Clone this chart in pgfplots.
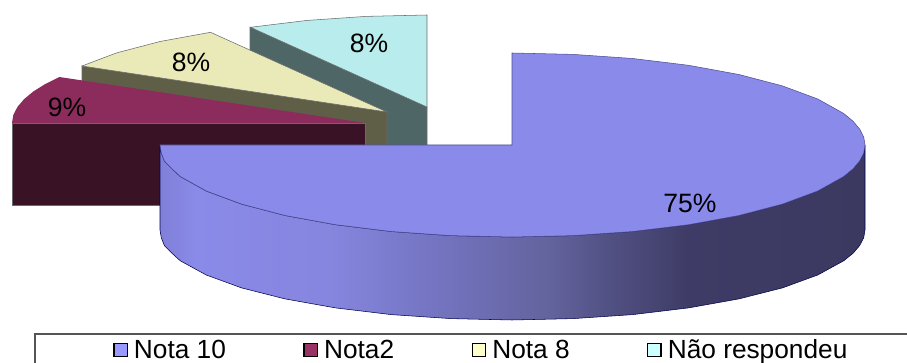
\documentclass[border=0pt]{standalone}
\usepackage{fontspec}
\setmainfont{Liberation Sans}
\usepackage{pgfplots}
\pgfplotsset{compat=1.18}
\definecolor{blueTop}{HTML}{8A8AEA}
\definecolor{maroonTop}{HTML}{8B2C5C}
\definecolor{maroonWall}{HTML}{3A1226}
\definecolor{creamTop}{HTML}{EAEAB8}
\definecolor{creamWall}{HTML}{5F5F48}
\definecolor{cyanTop}{HTML}{B9EDED}
\definecolor{cyanWall}{HTML}{4F6667}
\definecolor{edge}{HTML}{6A6A6A}
\definecolor{keyBlue}{HTML}{9999FF}
\definecolor{keyMaroon}{HTML}{993366}
\definecolor{keyCream}{HTML}{FFFFCC}
\definecolor{keyCyan}{HTML}{CCFFFF}
\pgfdeclarehorizontalshading{bluewall}{100bp}{%
 rgb(0bp)=(0.50,0.50,0.85);
 rgb(25bp)=(0.50,0.50,0.85);
 rgb(27.5bp)=(0.54,0.54,0.91);
 rgb(37bp)=(0.525,0.525,0.875);
 rgb(45bp)=(0.45,0.45,0.75);
 rgb(52.5bp)=(0.39,0.39,0.62);
 rgb(57.5bp)=(0.31,0.305,0.50);
 rgb(62.5bp)=(0.243,0.235,0.40);
 rgb(75bp)=(0.232,0.224,0.376);
 rgb(100bp)=(0.232,0.224,0.376)}
\begin{document}
\begin{tikzpicture}
\useasboundingbox (0,0) rectangle (680.25pt,272.25pt);
\begin{axis}[
  scale only axis, width=680.25pt, height=272.25pt,
  xmin=0, xmax=907, ymin=0, ymax=363, y dir=reverse,
  hide axis,
  legend columns=4,
  legend style={at={(axis cs:113,350)}, anchor=west, draw=none, fill=none,
    inner sep=0pt, font=\fontsize{19.7pt}{22pt}\selectfont,
    nodes={inner sep=0pt},
    /tikz/every even column/.append style={column sep=58.1pt},
    /tikz/every odd column/.append style={column sep=4.5pt}},
  legend image code/.code={\draw[#1,line width=1pt] (0pt,-5pt) rectangle (10pt,5pt);},
  every axis plot/.append style={forget plot},
]
% cyan slice (Nao respondeu)
\addplot[fill=cyanWall, draw=edge, line width=0.4pt] coordinates {(250,27) (427,107) (427,190) (250,110)} -- cycle;
\addplot[fill=cyanTop, draw=edge, line width=0.4pt] coordinates {(427,107) (250.5,27.3) (306.3,20.5) (365.7,16.4) (427,15)} -- cycle;
% cream slice (Nota 8)
\addplot[fill=creamWall, draw=edge, line width=0.4pt] coordinates {(82,66) (387,112) (387,195) (82,149)} -- cycle;
\addplot[fill=creamTop, draw=edge, line width=0.4pt] coordinates {(387,112) (82,66) (116.6,52.9) (160.1,41.5) (210.5,32.3)} -- cycle;
% maroon slice (Nota2)
\addplot[fill=maroonWall, draw=edge, line width=0.4pt] coordinates {(12,123) (365,123) (365,205.5) (12,205.5)} -- cycle;
\addplot[fill=maroonTop, draw=none] coordinates {(365,123) (12,123) (13.3,115) (17.4,107) (24,99.2) (33.3,91.5) (45.1,84.1) (59.3,77)} -- cycle;
% blue slice (Nota 10): wall
\addplot[shading=bluewall, draw=black!70!blue, line width=0.4pt] coordinates {
 (865,145) (863.7,153) (859.6,161) (853,168.8) (843.7,176.5) (817.7,191) (782.4,204.1) (738.9,215.5) (688.5,224.7) (632.7,231.5) (573.3,235.6) (512,237)
 (450.7,235.6) (391.3,231.5) (335.5,224.7) (285.1,215.5) (241.6,204.1) (206.3,191) (180.3,176.5) (172,168.8) (164.4,161) (161.3,153) (160,145)
 (160,230) (161.3,237.8) (164.4,245.6) (172,253.3) (180.3,260.8) (206.3,275) (241.6,287.9) (285.1,298.9) (335.5,307.9) (391.3,314.6) (450.7,318.6)
 (512,320) (573.3,318.6) (632.7,314.6) (688.5,307.9) (738.9,298.9) (782.4,287.9) (817.7,275) (843.7,260.8) (853,253.3) (859.6,245.6) (863.7,237.8) (865,230)
} -- cycle;
% blue slice: top
\addplot[fill=blueTop, draw=black!60!blue!70, line width=0.4pt] coordinates {
 (512,145) (512,53) (573.3,54.4) (632.7,58.5) (688.5,65.3) (738.9,74.5) (782.4,85.9) (817.7,99) (843.7,113.5) (853,121.2) (859.6,129) (863.7,137) (865,145)
 (863.7,153) (859.6,161) (853,168.8) (843.7,176.5) (817.7,191) (782.4,204.1) (738.9,215.5) (688.5,224.7) (632.7,231.5) (573.3,235.6) (512,237)
 (450.7,235.6) (391.3,231.5) (335.5,224.7) (285.1,215.5) (241.6,204.1) (206.3,191) (180.3,176.5) (172,168.8) (164.4,161) (161.3,153) (160,145)
} -- cycle;
% legend frame
\addplot[draw=edge!80!black, line width=1pt] coordinates {(35,370) (35,334) (915,334)};
% value labels
\node[font=\fontsize{19.9pt}{22pt}\selectfont] at (axis cs:690,203) {75\%};
\node[font=\fontsize{19.9pt}{22pt}\selectfont] at (axis cs:67,107.5) {9\%};
\node[font=\fontsize{19.9pt}{22pt}\selectfont] at (axis cs:191,62) {8\%};
\node[font=\fontsize{19.9pt}{22pt}\selectfont] at (axis cs:369,43) {8\%};
% legend
\addlegendimage{fill=keyBlue, draw=black}
\addlegendentry{Nota 10}
\addlegendimage{fill=keyMaroon, draw=black}
\addlegendentry{Nota2}
\addlegendimage{fill=keyCream, draw=black}
\addlegendentry{Nota 8}
\addlegendimage{fill=keyCyan, draw=black}
\addlegendentry{Não respondeu}
\end{axis}
\end{tikzpicture}
\end{document}
